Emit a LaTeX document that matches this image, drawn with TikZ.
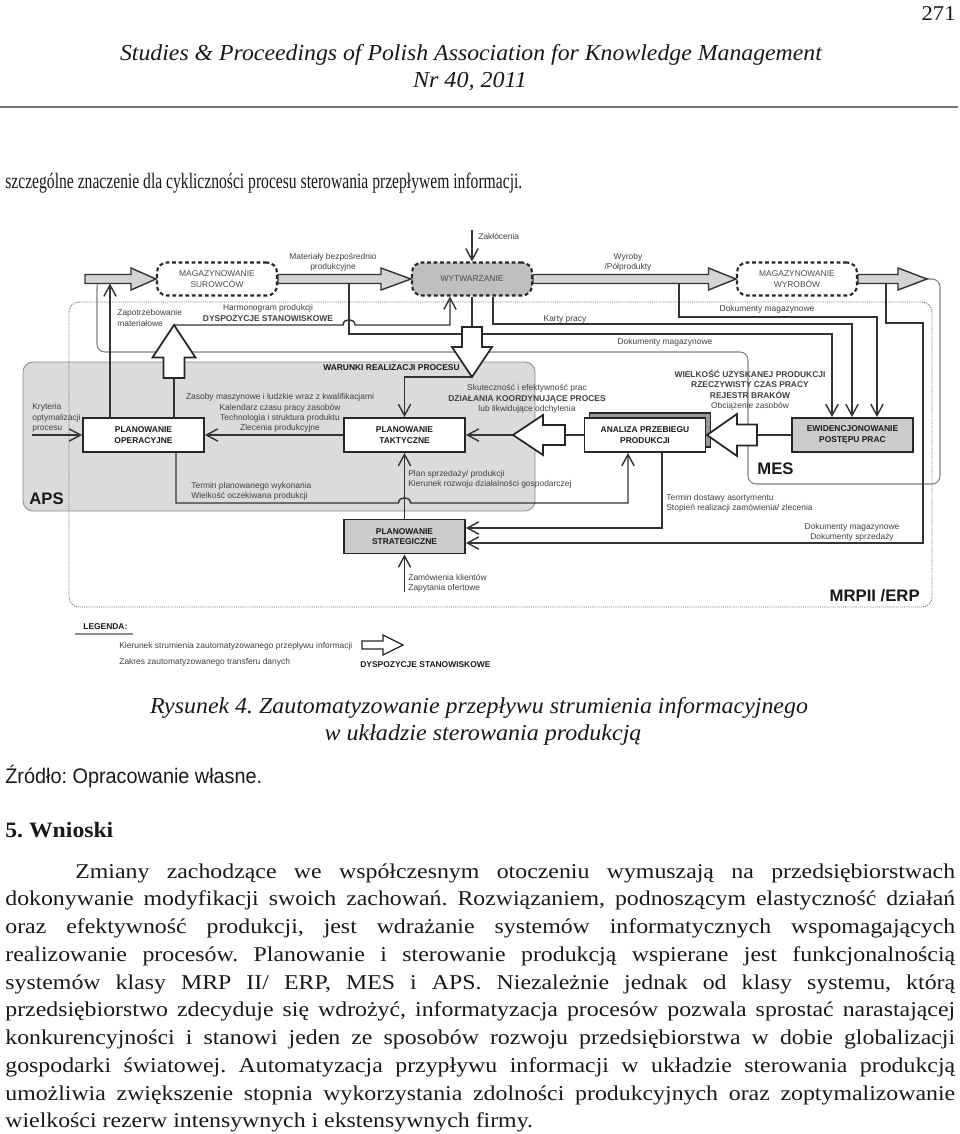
\documentclass[tikz,border=0pt]{standalone}
\usepackage{fontspec}
\setmainfont{Liberation Serif}
\setsansfont{Liberation Sans}
\newfontfamily\bodyfont{Liberation Serif}[FakeStretch=1.13]
\usepackage{graphicx}
\usetikzlibrary{arrows.meta,calc,positioning,shadows}
\frenchspacing

\newcommand{\dgfont}{\sffamily\fontsize{4.8}{5.9}\selectfont}
% one line of page text, stretched to a width
\newcommand{\fitline}[3]{\resizebox{#1}{\height}{\fontsize{#2}{#2}\selectfont #3}}
% fat arrow from #2 to #3: shaft half width #4, head half width #5, head length #6
\newcommand{\fatarrow}[6]{%
  \coordinate (fa-h) at ($(#3)!#6!(#2)$);
  \draw[#1] ($(#2)!#4!90:(#3)$) -- ($(fa-h)!#4!90:(#3)$) -- ($(fa-h)!#5!90:(#3)$)
    -- (#3) -- ($(fa-h)!#5!-90:(#3)$) -- ($(fa-h)!#4!-90:(#3)$)
    -- ($(#2)!#4!-90:(#3)$) -- cycle;}

\tikzset{
  procbox/.style={draw=black!85, line width=1.2pt, dash pattern=on 2.2pt off 1.5pt,
    fill=white, rounded corners=0.2cm, minimum width=2.4cm, minimum height=0.66cm,
    inner sep=0pt, align=center, font=\dgfont, text=black!70},
  planbox/.style={draw=black!85, line width=1.1pt, fill=white, minimum width=2.42cm,
    minimum height=0.68cm, inner sep=0pt, align=center, font=\dgfont\bfseries, text=black!90},
  conn/.style={draw=black!80, line width=0.8pt},
  connarr/.style={conn, -{Straight Barb[length=6.5pt,width=7pt]}},
  fatgray/.style={draw=black!80, line width=0.8pt, fill=black!17},
  fatwhite/.style={draw=black!85, line width=1pt, fill=white},
  lbl/.style={font=\dgfont, text=black!75, inner sep=0pt, align=center},
  lbll/.style={lbl, align=left, anchor=west},
  lblb/.style={lbl, font=\dgfont\bfseries, text=black!90},
  bigname/.style={font=\sffamily\bfseries\fontsize{9.5}{11}\selectfont, text=black!90, inner sep=0pt},
  pagetxt/.style={inner sep=0pt, text=black!90},
}

\begin{document}
\begin{tikzpicture}[x=0.02cm, y=-0.02cm]
\path[use as bounding box, fill=white] (0,0) rectangle (960,1134);

% Page head
\node[pagetxt, anchor=base east] (pnum) at (956,20) {\fitline{0.68cm}{12}{271}};
\node[pagetxt, anchor=base] (head1) at (471,60)
  {\fitline{14.04cm}{13}{\itshape Studies \& Proceedings of Polish Association for Knowledge Management}};
\node[pagetxt, anchor=base] (head2) at (470,87) {\fitline{2.28cm}{13}{\itshape Nr 40, 2011}};
\draw[black!55, line width=1.2pt] (0,107) -- (958,107);
\node[pagetxt, anchor=base west] (intro) at (5,188)
  {\fitline{10.34cm}{12.5}{szczególne znaczenie dla cykliczności procesu sterowania przepływem informacji.}};

% Regions
\draw[draw=black!45, line width=0.5pt, fill=black!14, rounded corners=0.2cm] (23,362) rectangle (535,511);
\draw[black!55, line width=0.5pt, dash pattern=on 0.6pt off 0.6pt, rounded corners=0.2cm] (69,302) rectangle (932,607);
\draw[black!50, line width=0.6pt, rounded corners=0.16cm]
  (97,279) -- (97,352) -- (748,352) -- (748,484) -- (940,484) -- (940,279) -- cycle;

% Process row
\node[procbox] (sur) at (217,279) {MAGAZYNOWANIE\\SUROWCÓW};
\node[procbox, fill=black!25] (wyt) at (472,279) {WYTWARZANIE};
\node[procbox] (wyr) at (797,279) {MAGAZYNOWANIE\\WYROBÓW};

% Planning boxes
\node[planbox] (po) at (143.5,435) {PLANOWANIE\\OPERACYJNE};
\node[planbox] (pt) at (404.5,435) {PLANOWANIE\\TAKTYCZNE};
\node[planbox, copy shadow={shadow xshift=0.1cm, shadow yshift=0.1cm, fill=black!40, draw=black!85}]
  (an) at (645,435) {ANALIZA PRZEBIEGU\\PRODUKCJI};
\node[planbox, fill=black!20] (ew) at (852.5,435) {EWIDENCJONOWANIE\\POSTĘPU PRAC};
\node[planbox, fill=black!20] (ps) at (404.5,536.5) {PLANOWANIE\\STRATEGICZNE};

% Free ends and bends
\coordinate (in) at (85,279);
\coordinate (out) at (927,279);
\coordinate (zak) at (472,230);
\coordinate (zap) at (110,283.5);
\coordinate (harmB) at (174,378);
\coordinate (harmT) at (174,325);
\coordinate (harmR) at (450,325);
\coordinate (matT) at (349,283.5);
\coordinate (matB) at (349,334);
\coordinate (docL) at (832,334);
\coordinate (wytB) at (472,327);
\coordinate (wytT) at (472,377);
\coordinate (karT) at (493,324);
\coordinate (karR) at (852,324);
\coordinate (wyrT) at (679,283.5);
\coordinate (wyrB) at (679,317);
\coordinate (wyrR) at (877,317);
\coordinate (outT) at (886,283.5);
\coordinate (outB) at (886,323);
\coordinate (outR) at (923,323);
\coordinate (outD) at (923,543);
\coordinate (kry) at (32,435);
\coordinate (anA) at (565,435);
\coordinate (anT) at (513,435);
\coordinate (ewA) at (757,435);
\coordinate (ewT) at (707,435);
\coordinate (poB) at (176,503);
\coordinate (anB) at (628,503);
\coordinate (antd) at (662,528);
\coordinate (zam) at (404.5,592);

% Connectors
\draw[connarr] (zak) -- (wyt.north);
\draw[connarr] (po.north -| zap) -- (zap);
\draw[conn] (po.north -| harmB) -- (harmB);
\draw[connarr] (harmT) -- (343,325) .. controls (343,318) and (355,318) .. (355,325)
  -- (harmR) -- (wyt.south -| harmR);
\draw[connarr] (matT) -- (matB) -- (docL) -- (ew.north -| docL);
\draw[connarr] (wyt.south -| karT) -- (karT) -- (karR) -- (ew.north -| karR);
\draw[connarr] (wyrT) -- (wyrB) -- (wyrR) -- (ew.north -| wyrR);
\draw[connarr] (outT) -- (outB) -- (outR) -- (outD) -- (ps.east |- outD);
\draw[conn] (wyt.south -| wytB) -- (wytB);
\draw[connarr] (wytT) -- (pt.north |- wytT) -- (pt.north);
\draw[connarr] (kry) -- (po.west);
\draw[connarr] (pt.west) -- (po.east);
\draw[conn] (an.west) -- (anA);
\draw[connarr] (anT) -- (pt.east);
\draw[conn] (ew.west) -- (ewA);
\draw[connarr] (po.south -| poB) -- (poB) -- (398.5,503) .. controls (398.5,496) and (410.5,496) .. (410.5,503)
  -- (anB) -- (an.south -| anB);
\draw[connarr] (an.south -| antd) -- (antd) -- (ps.east |- antd);
\draw[connarr] (ps.north) -- (pt.south);
\draw[connarr] (zam) -- (ps.south);

% Fat arrows
\fatarrow{fatgray}{in}{sur.west}{0.09cm}{0.22cm}{0.5cm}
\fatarrow{fatgray}{sur.east}{wyt.west}{0.09cm}{0.22cm}{0.6cm}
\fatarrow{fatgray}{wyt.east}{wyr.west}{0.09cm}{0.22cm}{0.55cm}
\fatarrow{fatgray}{wyr.east}{out}{0.09cm}{0.22cm}{0.58cm}
\fatarrow{fatwhite}{harmB}{harmT}{0.21cm}{0.43cm}{0.65cm}
\fatarrow{fatwhite}{wytB}{wytT}{0.2cm}{0.4cm}{0.6cm}
\fatarrow{fatwhite}{anA}{anT}{0.2cm}{0.4cm}{0.6cm}
\fatarrow{fatwhite}{ewA}{ewT}{0.21cm}{0.42cm}{0.6cm}

% Labels
\node[lbll] (lblzak) at (478,236) {Zakłócenia};
\node[lbl] (lblmat) at (333,262) {Materiały bezpośrednio\\produkcyjne};
\node[lbl] (lblwyr) at (628,262) {Wyroby\\/Półprodukty};
\node[lbll] (lblzap) at (117,318) {Zapotrzebowanie\\materiałowe};
\node[lbl] (lblharm) at (268,313) {Harmonogram produkcji\\\textbf{DYSPOZYCJE STANOWISKOWE}};
\node[lbl] (lblkar) at (565,319) {Karty pracy};
\node[lbl] (lbldoc1) at (767,309) {Dokumenty magazynowe};
\node[lbl] (lbldoc2) at (665,342) {Dokumenty magazynowe};
\node[lblb, anchor=east] (lblwar) at (460,368) {WARUNKI REALIZACJI PROCESU};
\node[lbll] (lblkry) at (32,418) {Kryteria\\optymalizacji\\procesu};
\node[lbl] (lblzas) at (280,413) {Zasoby maszynowe i ludzkie wraz z kwalifikacjami\\Kalendarz czasu pracy zasobów\\Technologia i struktura produktu\\Zlecenia produkcyjne};
\node[lbl] (lblsku) at (527,399) {Skuteczność i efektywność prac\\\textbf{DZIAŁANIA KOORDYNUJĄCE PROCES}\\lub likwidujące odchylenia};
\node[lbl] (lblwie) at (750,390) {\textbf{WIELKOŚĆ UZYSKANEJ PRODUKCJI}\\\textbf{RZECZYWISTY CZAS PRACY}\\\textbf{REJESTR BRAKÓW}\\Obciążenie zasobów};
\node[lbll] (lblter) at (191,491) {Termin planowanego wykonania\\Wielkość oczekiwana produkcji};
\node[lbll] (lblplan) at (408,479) {Plan sprzedaży/ produkcji\\Kierunek rozwoju działalności gospodarczej};
\node[lbll] (lbltdo) at (666,503) {Termin dostawy asortymentu\\Stopień realizacji zamówienia/ zlecenia};
\node[lbl] (lbldoc3) at (852,532) {Dokumenty magazynowe\\Dokumenty sprzedaży};
\node[lbll] (lblzam) at (408,583) {Zamówienia klientów\\Zapytania ofertowe};
\node[bigname, anchor=base west] (laps) at (29,504) {APS};
\node[bigname, anchor=base west] (lmes) at (757,474) {MES};
\node[bigname, anchor=base east] (lerp) at (920,601) {MRPII /ERP};

% Legend
\node[lblb, anchor=base west] (legtit) at (83,629) {LEGENDA:};
\draw[black!45, line width=1pt] (75,634) -- (133,634);
\node[lbll] (leg1) at (119,646) {Kierunek strumienia zautomatyzowanego przepływu informacji};
\coordinate (lega) at (362,645);
\coordinate (legb) at (403,645);
\fatarrow{fatwhite, line width=0.7pt}{lega}{legb}{0.08cm}{0.2cm}{0.4cm}
\node[lbll] (leg2) at (119,662) {Zakres zautomatyzowanego transferu danych};
\node[lblb, anchor=west] (legdys) at (360,665) {DYSPOZYCJE STANOWISKOWE};

% Caption and text
\node[pagetxt, anchor=base] (cap1) at (479,713)
  {\fitline{13.16cm}{13}{\itshape Rysunek 4. Zautomatyzowanie przepływu strumienia informacyjnego}};
\node[pagetxt, anchor=base] (cap2) at (483,740) {\fitline{6.34cm}{13}{\itshape w układzie sterowania produkcją}};
\node[pagetxt, anchor=base west] (src) at (5,783) {\fitline{5.14cm}{12}{\sffamily Źródło: Opracowanie własne.}};
\node[pagetxt, anchor=base west] (sect) at (5,837) {\fitline{2.16cm}{12.5}{\bfseries 5. Wnioski}};
\node[pagetxt, anchor=north west, text width=19cm, align=justify, font=\bodyfont\fontsize{12}{15.8}\selectfont] (body) at (5,863)
  {\tolerance=10000\hyphenpenalty=10000\hspace*{1.4cm}Zmiany zachodzące we współczesnym otoczeniu wymuszają na przedsiębiorstwach\linebreak
  dokonywanie modyfikacji swoich zachowań. Rozwiązaniem, podnoszącym elastyczność działań\linebreak
  oraz efektywność produkcji, jest wdrażanie systemów informatycznych wspomagających\linebreak
  realizowanie procesów. Planowanie i sterowanie produkcją wspierane jest funkcjonalnością\linebreak
  systemów klasy MRP II/ ERP, MES i APS. Niezależnie jednak od klasy systemu, którą\linebreak
  przedsiębiorstwo zdecyduje się wdrożyć, informatyzacja procesów pozwala sprostać narastającej\linebreak
  konkurencyjności i stanowi jeden ze sposobów rozwoju przedsiębiorstwa w dobie globalizacji\linebreak
  gospodarki światowej. Automatyzacja przypływu informacji w układzie sterowania produkcją\linebreak
  umożliwia zwiększenie stopnia wykorzystania zdolności produkcyjnych oraz zoptymalizowanie\linebreak
  wielkości rezerw intensywnych i ekstensywnych firmy.};
\end{tikzpicture}
\end{document}
